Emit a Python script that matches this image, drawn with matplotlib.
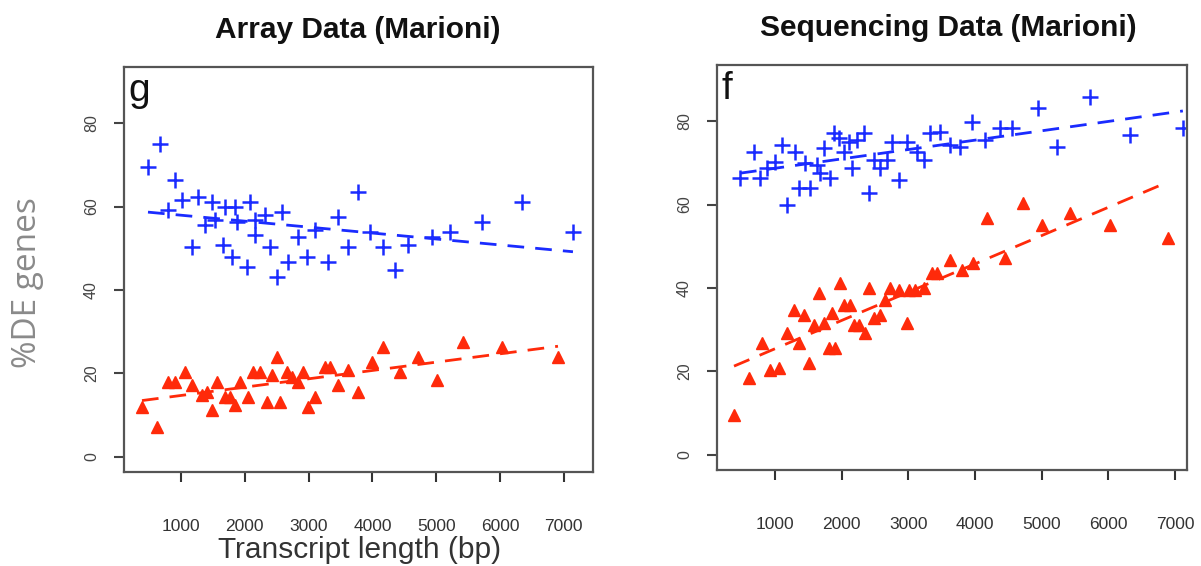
import numpy as np
import matplotlib
matplotlib.use("Agg")
import matplotlib.pyplot as plt

plt.rcParams["font.family"] = ["Liberation Sans", "DejaVu Sans"]

# panel g - array data
arr_up_x = [483, 671, 796, 906, 1016, 1172, 1266, 1376, 1486, 1533, 1658, 1690, 1800, 1846, 1878,
            2035, 2081, 2160, 2160, 2317, 2395, 2505, 2583, 2677, 2834, 2975, 3100, 3304, 3461,
            3618, 3774, 3962, 4166, 4354, 4558, 4934, 5216, 5718, 6345, 7144]
arr_up_y = [69.4, 75, 59.3, 66.5, 61.7, 50.2, 62.4, 55.7, 61, 56.9, 50.9, 59.8, 48, 60, 56.4,
            45.6, 61, 56.9, 53.3, 58.1, 50.2, 43.2, 58.6, 46.8, 52.6, 48, 54.5, 46.8, 57.4,
            50.2, 63.6, 53.8, 50.2, 44.9, 50.9, 52.6, 53.8, 56.2, 61, 54]
arr_dn_x = [389, 624, 796, 906, 1063, 1172, 1329, 1408, 1486, 1564, 1690, 1768, 1846, 1925, 2050,
            2128, 2238, 2426, 2348, 2505, 2552, 2661, 2740, 2834, 2912, 2991, 3100, 3257, 3335,
            3461, 3618, 3774, 3994, 4166, 4433, 4715, 5013, 5420, 6031, 6909]
arr_dn_y = [11.8, 7.2, 18, 18, 20.2, 17.3, 14.9, 15.4, 11.3, 18, 14.4, 14.2, 12.5, 18, 14.4,
            20.2, 20.4, 19.7, 13, 23.8, 13, 20.4, 19, 18, 20.4, 12, 14.4, 21.4, 21.4,
            17.3, 20.9, 15.6, 22.8, 26.2, 20.4, 23.8, 18.5, 27.6, 26.2, 23.8]

# panel f - sequencing data
seq_up_x = [475, 685, 775, 880, 1000, 1105, 1180, 1300, 1360, 1450, 1525, 1630, 1735, 1675, 1825,
            1885, 1960, 2035, 2110, 2155, 2230, 2335, 2410, 2485, 2575, 2680, 2755, 2860, 2980,
            3130, 3235, 3325, 3475, 3625, 3775, 3955, 4150, 4375, 4555, 4945, 5230, 5725, 6325, 7115]
seq_up_y = [66.5, 72.6, 66.5, 68.7, 70.2, 74.2, 59.8, 72.6, 64.1, 69.9, 64.1, 69.4, 73.5, 67.7, 66.5,
            77.1, 75.9, 72.6, 75, 68.9, 75.4, 77.1, 62.9, 70.6, 68.9, 70.6, 75, 65.8, 75,
            72.6, 70.6, 77.1, 77.4, 74.2, 73.8, 79.8, 75.4, 78.3, 78.3, 83.1, 73.8, 85.8, 76.6, 78.3]
seq_dn_x = [385, 610, 805, 925, 1060, 1180, 1285, 1360, 1435, 1510, 1585, 1660, 1735, 1810, 1855,
            1900, 1975, 2035, 2125, 2185, 2260, 2350, 2410, 2485, 2575, 2650, 2725, 2860, 2980,
            3010, 3100, 3235, 3355, 3430, 3625, 3805, 3970, 4180, 4450, 4720, 5005, 5425, 6025, 6890]
seq_dn_y = [9.4, 18.5, 26.9, 20.2, 20.9, 29.3, 34.6, 26.9, 33.4, 21.9, 31, 38.7, 31.7, 25.5, 33.9,
            25.7, 41.1, 35.8, 35.8, 31, 31, 29.1, 40.1, 32.7, 33.4, 37, 40.1, 39.4, 31.7,
            39.4, 39.4, 39.9, 43.5, 43.5, 46.6, 44.2, 45.9, 56.7, 47.3, 60.3, 55, 57.9, 55, 51.9]

x_ticks = [1000, 2000, 3000, 4000, 5000, 6000, 7000]
y_ticks = [0, 20, 40, 60, 80]

BLUE = "#1a2bff"
RED = "#ff2a0a"

fig = plt.figure(figsize=(12.01, 5.66), dpi=100)
axL = fig.add_axes([124 / 1201, 1 - 472 / 566, 469 / 1201, 405 / 566])
axR = fig.add_axes([717 / 1201, 1 - 470 / 566, 470 / 1201, 405 / 566])


def panel(ax, ux, uy, dx, dy, letter, xlim):
    ax.plot(ux, uy, "+", color=BLUE, ms=11, mew=1.8, ls="none")
    ax.plot(dx, dy, "^", color=RED, ms=8, mec=RED, ls="none")
    for xs, ys, c in [(ux, uy, BLUE), (dx, dy, RED)]:
        k, b = np.polyfit(xs, ys, 1)
        xx = np.array([min(xs), max(xs)])
        ax.plot(xx, k * xx + b, color=c, lw=2, dashes=(6, 4))
    ax.set_xlim(*xlim)
    ax.set_ylim(-3.7, 93.5)
    ax.set_xticks(x_ticks)
    ax.set_yticks(y_ticks)
    ax.tick_params(axis="x", length=7, width=1.5, pad=27, labelsize=12.5,
                   colors="#333333")
    ax.tick_params(axis="y", length=7, width=1.5, pad=11, labelsize=11.5,
                   colors="#444444", labelrotation=90)
    for lab in ax.get_yticklabels():
        lab.set_va("center")
    for s in ax.spines.values():
        s.set_color("#555555")
        s.set_linewidth(1.6)
    ax.text(0.01, 0.985, letter, transform=ax.transAxes, fontsize=28,
            va="top", ha="left", color="#111111")


panel(axL, arr_up_x, arr_up_y, arr_dn_x, arr_dn_y, "g", (107, 7458))
panel(axR, seq_up_x, seq_up_y, seq_dn_x, seq_dn_y, "f", (130, 7177))

fig.text(358 / 1201, 1 - 30 / 566, "Array Data (Marioni)", ha="center", va="center",
         fontsize=21.5, fontweight="bold", color="#111111")
fig.text(948 / 1201, 1 - 28 / 566, "Sequencing Data (Marioni)", ha="center", va="center",
         fontsize=21.5, fontweight="bold", color="#111111")
fig.text(28 / 1201, 1 - 283 / 566, "%DE genes", rotation=90, ha="center", va="center",
         fontsize=24, color="#8a8a8a", family=["Open Sans", "DejaVu Sans"])
fig.text(360 / 1201, 1 - 550 / 566, "Transcript length (bp)", ha="center", va="center",
         fontsize=21.5, color="#333333")

fig.savefig("out.png", dpi=100)
